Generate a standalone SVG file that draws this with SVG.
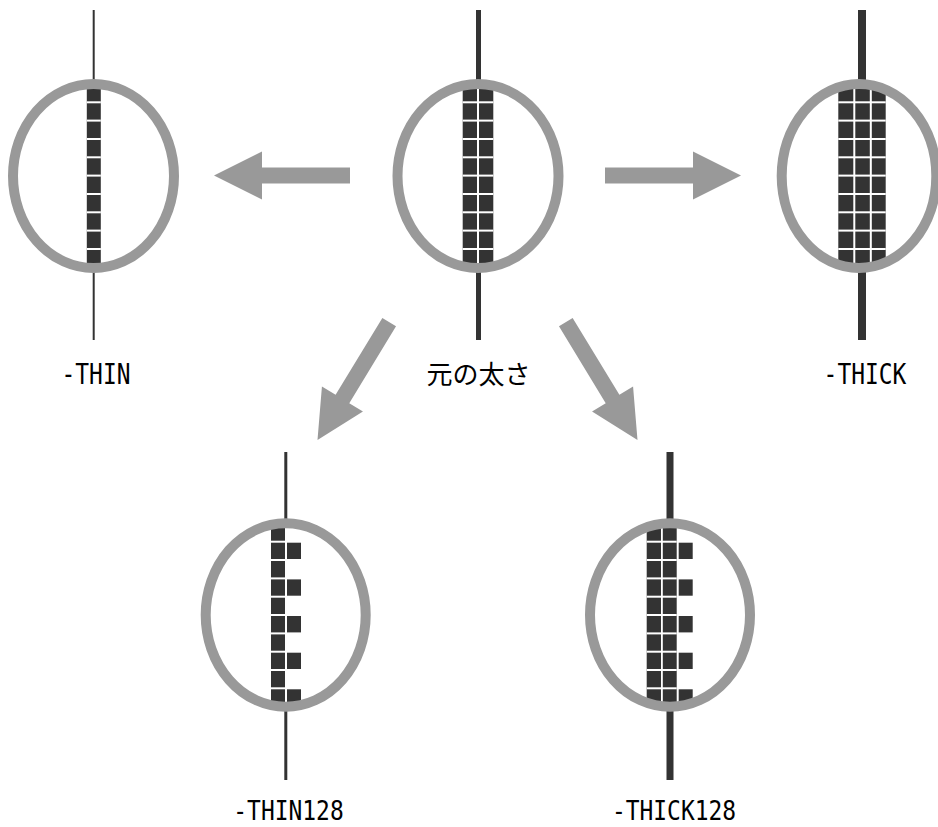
<svg xmlns="http://www.w3.org/2000/svg" xmlns:xlink="http://www.w3.org/1999/xlink" width="938" height="827" viewBox="0 0 938 827">
<style>
.bg{fill:#ffffff}
.axis{stroke:#333333;fill:none}
.sq{fill:#333333}
.gap{fill:#ffffff}
.hole{fill:#ffffff;stroke:none}
.ring{fill:none;stroke:#999999;stroke-width:10}
.arrow{fill:#999999}
.lbl{font-family:"DejaVu Sans Mono","Liberation Mono",monospace;font-size:28px;fill:#000000}
.lbl2{font-family:"DejaVu Sans Mono","Liberation Mono",monospace;font-size:27px;fill:#000000}
.jp{font-family:"Noto Sans CJK JP","Noto Sans CJK SC",sans-serif;font-size:26px;fill:#000000}
</style>
<defs>
<polygon id="arr" points="0,0 -48,-24 -48,-8 -138,-8 -138,8 -48,8 -48,24"/>
<clipPath id="c-thin"><ellipse cx="93.5" cy="176" rx="80.5" ry="92"/></clipPath>
<clipPath id="c-orig"><ellipse cx="478" cy="176" rx="80.5" ry="92"/></clipPath>
<clipPath id="c-thick"><ellipse cx="859" cy="176" rx="77.3" ry="92"/></clipPath>
<clipPath id="c-thin128"><ellipse cx="285.7" cy="615" rx="80" ry="91.7"/></clipPath>
<clipPath id="c-thick128"><ellipse cx="670" cy="615" rx="80" ry="91.7"/></clipPath>
</defs>
<rect class="bg" x="0" y="0" width="938" height="827"/>

<g id="connectors">
<polygon class="arrow" points="214,175.5 262,151.5 262,167.5 350,167.5 350,183.5 262,183.5 262,199.5"/>
<polygon class="arrow" points="741,175.5 693,151.5 693,167.5 605,167.5 605,183.5 693,183.5 693,199.5"/>
<use class="arrow" xlink:href="#arr" transform="translate(317.5,440) rotate(121.3)"/>
<use class="arrow" xlink:href="#arr" transform="translate(637.5,440) rotate(58.7)"/>
</g>

<g id="node-thin">
<line class="axis" x1="93.7" y1="10" x2="93.7" y2="340" stroke-width="2"/>
<ellipse class="hole" cx="93.5" cy="176" rx="80.5" ry="92"/>
<g clip-path="url(#c-thin)">
<rect class="sq" x="86.8" y="83" width="14" height="186"/>
<g class="gap">
<rect x="86.8" y="101.3" width="14" height="2"/><rect x="86.8" y="119.6" width="14" height="2"/><rect x="86.8" y="138" width="14" height="2"/>
<rect x="86.8" y="156.3" width="14" height="2"/><rect x="86.8" y="174.6" width="14" height="2"/><rect x="86.8" y="193" width="14" height="2"/>
<rect x="86.8" y="211.3" width="14" height="2"/><rect x="86.8" y="229.6" width="14" height="2"/><rect x="86.8" y="248" width="14" height="2"/>
</g>
</g>
<ellipse class="ring" cx="93.5" cy="176" rx="80.5" ry="92"/>
<text class="lbl" x="96" y="383.5" text-anchor="middle" textLength="69" lengthAdjust="spacingAndGlyphs">-THIN</text>
</g>

<g id="node-original">
<line class="axis" x1="478.5" y1="10" x2="478.5" y2="340" stroke-width="5"/>
<ellipse class="hole" cx="478" cy="176" rx="80.5" ry="92"/>
<g clip-path="url(#c-orig)">
<rect class="sq" x="462.7" y="83" width="30.6" height="186"/>
<g class="gap">
<rect x="477" y="83" width="2" height="186"/>
<rect x="462.7" y="101.3" width="30.6" height="2"/><rect x="462.7" y="119.6" width="30.6" height="2"/><rect x="462.7" y="138" width="30.6" height="2"/>
<rect x="462.7" y="156.3" width="30.6" height="2"/><rect x="462.7" y="174.6" width="30.6" height="2"/><rect x="462.7" y="193" width="30.6" height="2"/>
<rect x="462.7" y="211.3" width="30.6" height="2"/><rect x="462.7" y="229.6" width="30.6" height="2"/><rect x="462.7" y="248" width="30.6" height="2"/>
</g>
</g>
<ellipse class="ring" cx="478" cy="176" rx="80.5" ry="92"/>
<text class="jp" x="478.5" y="384" text-anchor="middle">元の太さ</text>
</g>

<g id="node-thick">
<line class="axis" x1="862" y1="10" x2="862" y2="340" stroke-width="8"/>
<ellipse class="hole" cx="859" cy="176" rx="77.3" ry="92"/>
<g clip-path="url(#c-thick)">
<rect class="sq" x="838.3" y="83" width="47.4" height="186"/>
<g class="gap">
<rect x="853.3" y="83" width="2" height="186"/><rect x="869.8" y="83" width="2" height="186"/>
<rect x="838.3" y="101.3" width="47.4" height="2"/><rect x="838.3" y="119.6" width="47.4" height="2"/><rect x="838.3" y="138" width="47.4" height="2"/>
<rect x="838.3" y="156.3" width="47.4" height="2"/><rect x="838.3" y="174.6" width="47.4" height="2"/><rect x="838.3" y="193" width="47.4" height="2"/>
<rect x="838.3" y="211.3" width="47.4" height="2"/><rect x="838.3" y="229.6" width="47.4" height="2"/><rect x="838.3" y="248" width="47.4" height="2"/>
</g>
</g>
<ellipse class="ring" cx="859" cy="176" rx="77.3" ry="92"/>
<text class="lbl" x="865" y="384" text-anchor="middle" textLength="82.8" lengthAdjust="spacingAndGlyphs">-THICK</text>
</g>

<g id="node-thin128">
<line class="axis" x1="285.8" y1="452" x2="285.8" y2="780" stroke-width="3"/>
<ellipse class="hole" cx="285.7" cy="615" rx="80" ry="91.7"/>
<g clip-path="url(#c-thin128)">
<rect class="sq" x="271" y="522" width="14" height="186"/>
<g class="gap">
<rect x="271" y="540.7" width="14" height="2"/><rect x="271" y="559" width="14" height="2"/><rect x="271" y="577.4" width="14" height="2"/>
<rect x="271" y="595.7" width="14" height="2"/><rect x="271" y="614" width="14" height="2"/><rect x="271" y="632.4" width="14" height="2"/>
<rect x="271" y="650.7" width="14" height="2"/><rect x="271" y="669" width="14" height="2"/><rect x="271" y="687.3" width="14" height="2"/>
</g>
<g class="sq">
<rect x="287" y="542.7" width="14" height="16.3"/><rect x="287" y="579.4" width="14" height="16.3"/><rect x="287" y="616" width="14" height="16.4"/>
<rect x="287" y="652.7" width="14" height="16.3"/><rect x="287" y="689.3" width="14" height="18.7"/>
</g>
</g>
<ellipse class="ring" cx="285.7" cy="615" rx="80" ry="91.7"/>
<text class="lbl2" x="288.5" y="820" text-anchor="middle" textLength="110.4" lengthAdjust="spacingAndGlyphs">-THIN128</text>
</g>

<g id="node-thick128">
<line class="axis" x1="670" y1="452" x2="670" y2="780" stroke-width="7"/>
<ellipse class="hole" cx="670" cy="615" rx="80" ry="91.7"/>
<g clip-path="url(#c-thick128)">
<rect class="sq" x="646.7" y="522" width="30" height="186"/>
<g class="gap">
<rect x="661" y="522" width="1.8" height="186"/>
<rect x="646.7" y="540.7" width="30" height="2"/><rect x="646.7" y="559" width="30" height="2"/><rect x="646.7" y="577.4" width="30" height="2"/>
<rect x="646.7" y="595.7" width="30" height="2"/><rect x="646.7" y="614" width="30" height="2"/><rect x="646.7" y="632.4" width="30" height="2"/>
<rect x="646.7" y="650.7" width="30" height="2"/><rect x="646.7" y="669" width="30" height="2"/><rect x="646.7" y="687.3" width="30" height="2"/>
</g>
<g class="sq">
<rect x="678.7" y="542.7" width="14" height="16.3"/><rect x="678.7" y="579.4" width="14" height="16.3"/><rect x="678.7" y="616" width="14" height="16.4"/>
<rect x="678.7" y="652.7" width="14" height="16.3"/><rect x="678.7" y="689.3" width="14" height="18.7"/>
</g>
</g>
<ellipse class="ring" cx="670" cy="615" rx="80" ry="91.7"/>
<text class="lbl2" x="674" y="820" text-anchor="middle" textLength="124.2" lengthAdjust="spacingAndGlyphs">-THICK128</text>
</g>
</svg>
